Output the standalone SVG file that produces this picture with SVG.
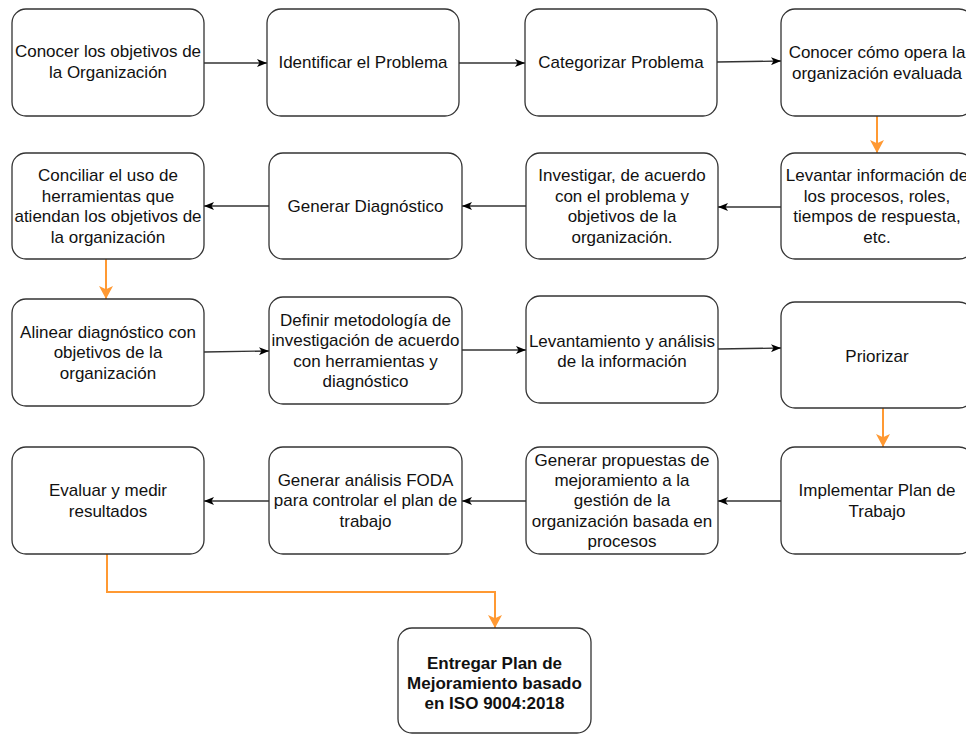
<svg xmlns="http://www.w3.org/2000/svg" width="966" height="734" viewBox="0 0 966 734">
  <style>
    .box { fill: #ffffff; stroke: #333333; stroke-width: 1.3; }
    .lbl { font-family: "Liberation Sans", Arial, Helvetica, sans-serif; font-size: 17px; fill: #111111; text-anchor: middle; }
    .bold { font-weight: bold; }
    .flow { fill: none; stroke: #333333; stroke-width: 1.3; }
    .orange { fill: none; stroke: #FF9933; stroke-width: 2; }
  </style>
  <defs>
    <marker id="arrow" markerUnits="userSpaceOnUse" markerWidth="10" markerHeight="8" refX="10" refY="4" orient="auto" viewBox="0 0 10 8">
      <path d="M10,4 L0,0 L2.5,4 L0,8 Z" fill="#000000"/>
    </marker>
    <marker id="arrowOrange" markerUnits="userSpaceOnUse" markerWidth="13" markerHeight="14" refX="13" refY="7" orient="auto" viewBox="0 0 13 14">
      <path d="M13,7 L0,0 L3.2,7 L0,14 Z" fill="#FF9933"/>
    </marker>
  </defs>

  <rect width="966" height="734" fill="#ffffff"/>

  <!-- connectors -->
  <g id="connectors">
    <!-- row 1, left to right -->
    <line class="flow" x1="204" y1="63" x2="267" y2="63" marker-end="url(#arrow)"/>
    <line class="flow" x1="459" y1="63" x2="525" y2="63" marker-end="url(#arrow)"/>
    <line class="flow" x1="717" y1="62" x2="781" y2="61" marker-end="url(#arrow)"/>
    <line class="orange" x1="877" y1="116" x2="877" y2="153" marker-end="url(#arrowOrange)"/>
    <!-- row 2, right to left -->
    <line class="flow" x1="781" y1="207" x2="718" y2="207" marker-end="url(#arrow)"/>
    <line class="flow" x1="526" y1="206" x2="462" y2="206" marker-end="url(#arrow)"/>
    <line class="flow" x1="269" y1="206" x2="204" y2="206" marker-end="url(#arrow)"/>
    <line class="orange" x1="106" y1="259" x2="106" y2="299" marker-end="url(#arrowOrange)"/>
    <!-- row 3, left to right -->
    <line class="flow" x1="204" y1="352" x2="269" y2="351" marker-end="url(#arrow)"/>
    <line class="flow" x1="462" y1="350" x2="526" y2="350" marker-end="url(#arrow)"/>
    <line class="flow" x1="718" y1="349" x2="781" y2="348" marker-end="url(#arrow)"/>
    <line class="orange" x1="883" y1="408" x2="883" y2="447" marker-end="url(#arrowOrange)"/>
    <!-- row 4, right to left -->
    <line class="flow" x1="781" y1="501" x2="718" y2="501" marker-end="url(#arrow)"/>
    <line class="flow" x1="526" y1="501" x2="462" y2="501" marker-end="url(#arrow)"/>
    <line class="flow" x1="269" y1="501" x2="204" y2="501" marker-end="url(#arrow)"/>
    <!-- to final deliverable -->
    <polyline class="orange" points="107,554 107,592 495,592 495,628" marker-end="url(#arrowOrange)"/>
  </g>

  <!-- row 1 -->
  <g id="n1">
    <rect class="box" x="12" y="9" width="192" height="107" rx="14"/>
    <text class="lbl" x="108" y="57">Conocer los objetivos de</text>
    <text class="lbl" x="108" y="77.5">la Organización</text>
  </g>
  <g id="n2">
    <rect class="box" x="267" y="9" width="192" height="107" rx="14"/>
    <text class="lbl" x="363" y="68.4">Identificar el Problema</text>
  </g>
  <g id="n3">
    <rect class="box" x="525" y="9" width="192" height="107" rx="14"/>
    <text class="lbl" x="621" y="68.4">Categorizar Problema</text>
  </g>
  <g id="n4">
    <rect class="box" x="781" y="9" width="192" height="107" rx="14"/>
    <text class="lbl" x="877" y="58.2">Conocer cómo opera la</text>
    <text class="lbl" x="877" y="78.6">organización evaluada</text>
  </g>

  <!-- row 2 -->
  <g id="n5">
    <rect class="box" x="781" y="153" width="192" height="106" rx="14"/>
    <text class="lbl" x="877" y="181.3">Levantar información de</text>
    <text class="lbl" x="877" y="201.7">los procesos, roles,</text>
    <text class="lbl" x="877" y="222.1">tiempos de respuesta,</text>
    <text class="lbl" x="877" y="242.5">etc.</text>
  </g>
  <g id="n6">
    <rect class="box" x="526" y="153" width="192" height="106" rx="14"/>
    <text class="lbl" x="622" y="181.3">Investigar, de acuerdo</text>
    <text class="lbl" x="622" y="201.7">con el problema y</text>
    <text class="lbl" x="622" y="222.1">objetivos de la</text>
    <text class="lbl" x="622" y="242.5">organización.</text>
  </g>
  <g id="n7">
    <rect class="box" x="269" y="153" width="193" height="106" rx="14"/>
    <text class="lbl" x="365.5" y="211.9">Generar Diagnóstico</text>
  </g>
  <g id="n8">
    <rect class="box" x="12" y="153" width="192" height="106" rx="14"/>
    <text class="lbl" x="108" y="181.3">Conciliar el uso de</text>
    <text class="lbl" x="108" y="201.7">herramientas que</text>
    <text class="lbl" x="108" y="222.1">atiendan los objetivos de</text>
    <text class="lbl" x="108" y="242.5">la organización</text>
  </g>

  <!-- row 3 -->
  <g id="n9">
    <rect class="box" x="12" y="299" width="192" height="107" rx="14"/>
    <text class="lbl" x="108" y="338">Alinear diagnóstico con</text>
    <text class="lbl" x="108" y="358.4">objetivos de la</text>
    <text class="lbl" x="108" y="378.8">organización</text>
  </g>
  <g id="n10">
    <rect class="box" x="269" y="297" width="193" height="107" rx="14"/>
    <text class="lbl" x="365.5" y="325.8">Definir metodología de</text>
    <text class="lbl" x="365.5" y="346.2">investigación de acuerdo</text>
    <text class="lbl" x="365.5" y="366.6">con herramientas y</text>
    <text class="lbl" x="365.5" y="387">diagnóstico</text>
  </g>
  <g id="n11">
    <rect class="box" x="526" y="296" width="192" height="107" rx="14"/>
    <text class="lbl" x="622" y="347">Levantamiento y análisis</text>
    <text class="lbl" x="622" y="367.4">de la información</text>
  </g>
  <g id="n12">
    <rect class="box" x="781" y="302" width="192" height="106" rx="14"/>
    <text class="lbl" x="877" y="361.5">Priorizar</text>
  </g>

  <!-- row 4 -->
  <g id="n13">
    <rect class="box" x="781" y="447" width="192" height="107" rx="14"/>
    <text class="lbl" x="877" y="496.2">Implementar Plan de</text>
    <text class="lbl" x="877" y="516.6">Trabajo</text>
  </g>
  <g id="n14">
    <rect class="box" x="526" y="447" width="192" height="107" rx="14"/>
    <text class="lbl" x="622" y="465.6">Generar propuestas de</text>
    <text class="lbl" x="622" y="486">mejoramiento a la</text>
    <text class="lbl" x="622" y="506.4">gestión de la</text>
    <text class="lbl" x="622" y="526.8">organización basada en</text>
    <text class="lbl" x="622" y="547.2">procesos</text>
  </g>
  <g id="n15">
    <rect class="box" x="269" y="447" width="193" height="107" rx="14"/>
    <text class="lbl" x="365.5" y="486">Generar análisis FODA</text>
    <text class="lbl" x="365.5" y="506.4">para controlar el plan de</text>
    <text class="lbl" x="365.5" y="526.8">trabajo</text>
  </g>
  <g id="n16">
    <rect class="box" x="12" y="447" width="192" height="107" rx="14"/>
    <text class="lbl" x="108" y="496.2">Evaluar y medir</text>
    <text class="lbl" x="108" y="516.6">resultados</text>
  </g>

  <!-- final deliverable -->
  <g id="n17">
    <rect class="box" x="398" y="628" width="193" height="105" rx="14"/>
    <text class="lbl bold" x="494.5" y="668.5">Entregar Plan de</text>
    <text class="lbl bold" x="494.5" y="688.9">Mejoramiento basado</text>
    <text class="lbl bold" x="494.5" y="709.3">en ISO 9004:2018</text>
  </g>
</svg>
